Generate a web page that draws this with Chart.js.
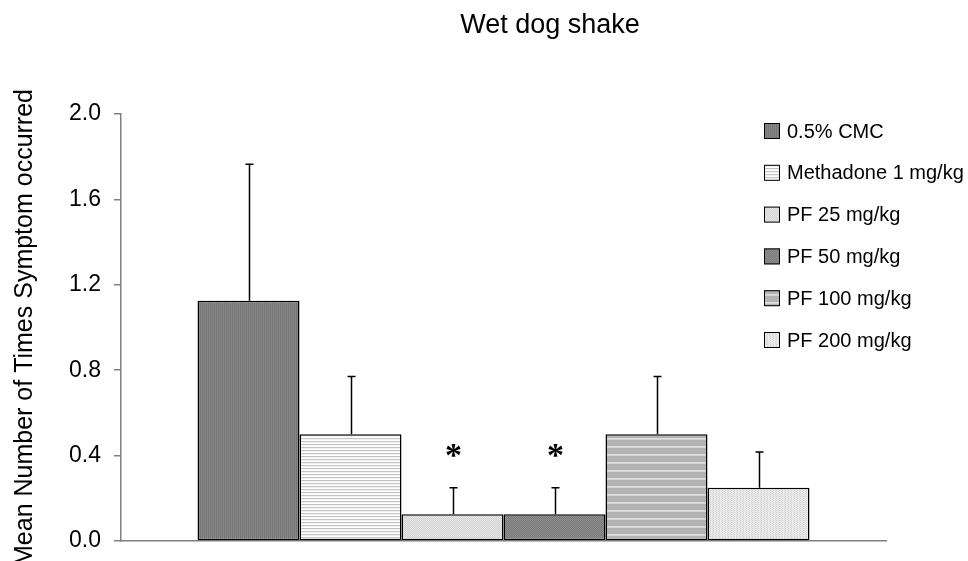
<!DOCTYPE html>
<html>
<head>
<meta charset="utf-8">
<title>Wet dog shake</title>
<script src="https://cdn.jsdelivr.net/npm/chart.js@4"></script>
<style>
  html, body { margin: 0; padding: 0; background: #ffffff; }
  #wrap { width: 968px; height: 561px; }
</style>
</head>
<body>
<div id="wrap"><canvas id="myChart" width="968" height="561"></canvas></div>
<script>
// data
const chartTitle = 'Wet dog shake';
const yTitle = 'Mean Number of Times Symptom occurred';
const groups = ['0.5% CMC', 'Methadone 1 mg/kg', 'PF 25 mg/kg', 'PF 50 mg/kg', 'PF 100 mg/kg', 'PF 200 mg/kg'];
const means = [1.125, 0.5, 0.125, 0.125, 0.5, 0.25];
const errors = [0.64, 0.27, 0.125, 0.125, 0.27, 0.167];
const marks = ['', '', '*', '*', '', ''];
const yTicks = [0, 0.4, 0.8, 1.2, 1.6, 2.0];

// small tiles used as fill patterns (one per group)
function makePattern(rows) {
    var c = document.createElement('canvas');
    c.width = rows[0].length;
    c.height = rows.length;
    var g = c.getContext('2d');
    for (var y = 0; y < rows.length; y++) {
        for (var x = 0; x < rows[y].length; x++) {
            g.fillStyle = rows[y][x];
            g.fillRect(x, y, 1, 1);
        }
    }
    return g.createPattern(c, 'repeat');
}

var A = '#767676', B = '#868686';
var fills = [
    makePattern([[A, B], [A, B]]),                                   // dark gray, fine texture
    makePattern([['#c4c4c4'], ['#f2f2f2'], ['#ffffff']]),             // white with gray lines
    makePattern([['#e6e6e6', '#d2d2d2'], ['#d2d2d2', '#e6e6e6']]),    // light dotted
    makePattern([['#8e8e8e', '#7a7a7a'], ['#7a7a7a', '#8e8e8e']]),    // dark dotted
    makePattern([['#b3b3b3'], ['#b3b3b3'], ['#b3b3b3'], ['#b3b3b3'], ['#b3b3b3'], ['#b3b3b3'], ['#dedede'], ['#d2d2d2']]), // gray with light stripes
    makePattern([['#ebebeb', '#ebebeb', '#cfcfcf'], ['#ebebeb', '#d8d8d8', '#ebebeb']]) // light vertical dots
];

var datasets = groups.map(function (name, i) {
    return {
        label: name,
        data: [means[i]],
        backgroundColor: fills[i],
        borderColor: '#000000',
        borderWidth: 1.5,
        borderSkipped: false,
        categoryPercentage: 0.8,
        barPercentage: 1.0
    };
});

// error bars (upper only) and significance marks
var errorBarPlugin = {
    id: 'errorBars',
    afterDatasetsDraw: function (chart) {
        var ctx = chart.ctx;
        var yScale = chart.scales.y;
        ctx.save();
        ctx.strokeStyle = '#000000';
        ctx.lineWidth = 1.5;
        for (var i = 0; i < means.length; i++) {
            var bar = chart.getDatasetMeta(i).data[0];
            var x = Math.round(bar.x) + 0.5;
            var yTop = yScale.getPixelForValue(means[i] + errors[i]);
            ctx.beginPath();
            ctx.moveTo(x, bar.y);
            ctx.lineTo(x, yTop);
            ctx.moveTo(x - 4, yTop);
            ctx.lineTo(x + 4, yTop);
            ctx.stroke();
            if (marks[i]) {
                ctx.font = 'bold 34px "Liberation Serif"';
                ctx.fillStyle = '#000000';
                ctx.textAlign = 'center';
                ctx.textBaseline = 'alphabetic';
                var m = ctx.measureText(marks[i]);
                var mid = (m.actualBoundingBoxAscent - m.actualBoundingBoxDescent) / 2;
                ctx.fillText(marks[i], x, yTop - 37 + mid);
            }
        }
        ctx.restore();
    }
};

// title and legend drawn by hand, the legend sits over the plot area like in the picture
var titleLegendPlugin = {
    id: 'titleLegend',
    afterDraw: function (chart) {
        var ctx = chart.ctx;
        ctx.save();
        ctx.fillStyle = '#000000';
        ctx.font = '27px "Liberation Sans"';
        ctx.textAlign = 'center';
        ctx.textBaseline = 'alphabetic';
        ctx.fillText(chartTitle, 550, 33);

        ctx.font = '20px "Liberation Sans"';
        ctx.textAlign = 'left';
        ctx.textBaseline = 'middle';
        for (var i = 0; i < groups.length; i++) {
            var cy = 131 + i * 41.8;
            ctx.fillStyle = fills[i];
            ctx.fillRect(764, cy - 8, 16, 16);
            ctx.strokeStyle = '#000000';
            ctx.lineWidth = 1;
            ctx.strokeRect(764.5, cy - 7.5, 15, 15);
            ctx.fillStyle = '#000000';
            ctx.fillText(groups[i], 787, cy + 1);
        }
        ctx.restore();
    }
};

var ctx = document.getElementById('myChart').getContext('2d');
var chart = new Chart(ctx, {
    type: 'bar',
    data: {
        labels: [''],
        datasets: datasets
    },
    options: {
        responsive: false,
        animation: false,
        layout: {
            padding: { left: 0, right: 82, top: 114, bottom: 20 }
        },
        plugins: {
            legend: { display: false },
            title: { display: false },
            tooltip: { enabled: false }
        },
        scales: {
            x: {
                grid: { display: false, drawTicks: false },
                ticks: { display: false },
                border: { display: true, color: '#808080', width: 1.5 },
                afterFit: function (scale) {
                    scale.height = 0;
                    scale.paddingLeft = 0;
                    scale.paddingRight = 0;
                }
            },
            y: {
                min: 0,
                max: 2.0,
                afterBuildTicks: function (scale) {
                    scale.ticks = yTicks.map(function (v) { return { value: v }; });
                },
                ticks: {
                    color: '#000000',
                    font: { family: 'Liberation Sans', size: 23 },
                    padding: 13,
                    callback: function (v) { return v.toFixed(1); }
                },
                grid: {
                    drawOnChartArea: false,
                    drawTicks: true,
                    tickLength: 7,
                    color: '#808080',
                    lineWidth: 1.5
                },
                border: { display: true, color: '#808080', width: 1.5 },
                title: {
                    display: true,
                    text: yTitle,
                    color: '#000000',
                    font: { family: 'Liberation Sans', size: 25 },
                    padding: { top: 10, bottom: 0 }
                },
                afterFit: function (scale) {
                    // fixed axis width, and no extra room for the end labels
                    scale.width = 121;
                    scale.paddingTop = 0;
                    scale.paddingBottom = 0;
                }
            }
        }
    },
    plugins: [errorBarPlugin, titleLegendPlugin]
});
</script>
</body>
</html>
